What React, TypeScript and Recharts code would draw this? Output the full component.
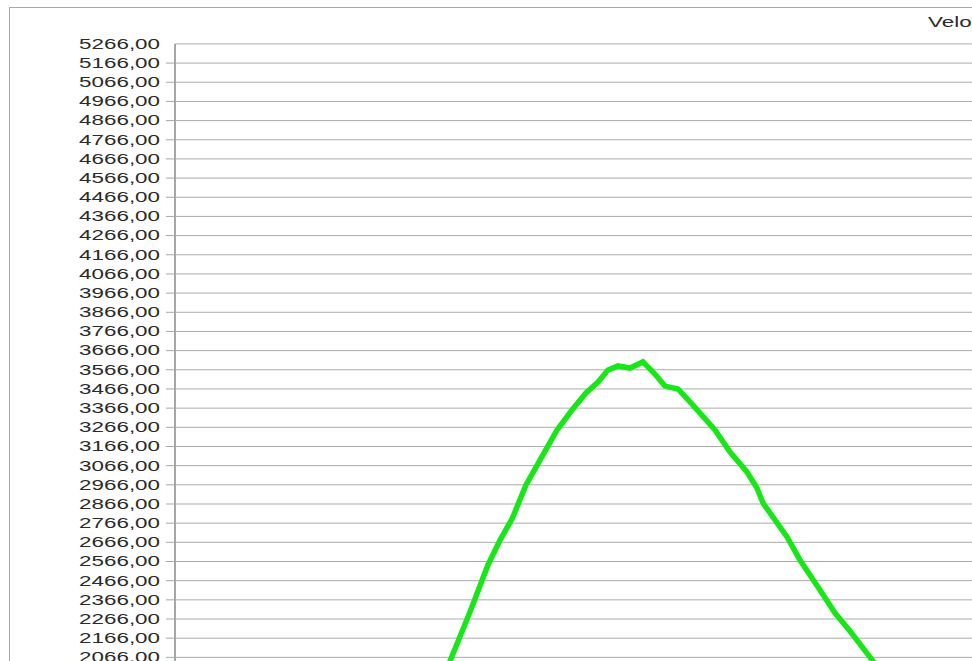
import { CartesianGrid, Line, LineChart, XAxis, YAxis } from 'recharts';

// time axis, one grid column per unit
const timeTicks = [1, 2, 3, 4, 5, 6, 7, 8];

const velocityTicks = [
  5266, 5166, 5066, 4966, 4866, 4766, 4666, 4566, 4466, 4366, 4266, 4166, 4066, 3966, 3866, 3766,
  3666, 3566, 3466, 3366, 3266, 3166, 3066, 2966, 2866, 2766, 2666, 2566, 2466, 2366, 2266, 2166,
  2066,
];

const times = [
  2.278, 2.363, 2.531, 2.683, 2.785, 2.886, 3.004, 3.122, 3.266, 3.392, 3.51, 3.612, 3.696, 3.78,
  3.882, 3.991, 4.084, 4.177, 4.287, 4.413, 4.599, 4.726, 4.869, 4.953, 5.004, 5.207, 5.316, 5.485,
  5.612, 5.738, 5.932, 6.076,
];

const velocity = [
  1906, 2047, 2303, 2548, 2678, 2788, 2965, 3095, 3252, 3356, 3445, 3502, 3565, 3586, 3575, 3607,
  3549, 3481, 3466, 3382, 3252, 3137, 3033, 2949, 2871, 2694, 2574, 2417, 2297, 2203, 2047, 1906,
];

const data = times.map((t, i) => ({ t, v: velocity[i] }));

const labelFont = '"Liberation Sans", Arial, sans-serif';

function VelocityTick(props: any) {
  const { x, y, payload } = props;
  return (
    <g>
      {payload.value !== velocityTicks[0] && (
        <line x1={x + 6} x2={x + 15} y1={y} y2={y} stroke="#a8a8a8" strokeWidth={1} />
      )}
      <text
        transform={`translate(${x},${y}) scale(1.6,1)`}
        textAnchor="end"
        dominantBaseline="central"
        fontFamily={labelFont}
        fontSize={14}
        fill="#2a2a2a"
      >
        {Number(payload.value).toFixed(2).replace('.', ',')}
      </text>
    </g>
  );
}

export default function App() {
  return (
    <div
      style={{
        position: 'fixed',
        left: 0,
        top: 0,
        width: 972,
        height: 661,
        overflow: 'hidden',
        background: '#fff',
      }}
    >
      <div
        style={{
          position: 'absolute',
          left: 9,
          top: 7,
          width: 1200,
          height: 900,
          border: '1px solid #a9a9a9',
        }}
      />
      <div
        style={{
          position: 'absolute',
          left: 928,
          top: 15,
          fontFamily: labelFont,
          fontSize: 14,
          lineHeight: '14px',
          color: '#2a2a2a',
          whiteSpace: 'nowrap',
          transform: 'scaleX(1.6)',
          transformOrigin: 'left',
        }}
      >
        Velocidade
      </div>
      <div style={{ position: 'absolute', left: 0, top: 0 }}>
        <LineChart
          width={1160}
          height={800}
          data={data}
          margin={{ top: 43.9, right: 18.3, bottom: 16.8, left: 10 }}
        >
          <CartesianGrid
            vertical={false}
            stroke="#ababab"
            strokeWidth={1}
            horizontalValues={velocityTicks}
          />
          <CartesianGrid horizontal={false} stroke="#a6a6a6" strokeWidth={2} verticalValues={timeTicks} />
          <XAxis
            type="number"
            dataKey="t"
            domain={[0.042, 8.2]}
            ticks={timeTicks}
            allowDataOverflow
            height={30}
            axisLine={false}
            tickLine={false}
            tick={false}
          />
          <YAxis
            type="number"
            dataKey="v"
            domain={[1566, 5266]}
            ticks={velocityTicks}
            interval={0}
            allowDataOverflow
            width={165}
            tickSize={9}
            tickMargin={6}
            tickLine={false}
            axisLine={{ stroke: '#a6a6a6', strokeWidth: 2 }}
            tick={<VelocityTick />}
          />
          <Line
            type="linear"
            dataKey="v"
            stroke="#19e619"
            strokeWidth={5.5}
            dot={false}
            isAnimationActive={false}
          />
        </LineChart>
      </div>
    </div>
  );
}
